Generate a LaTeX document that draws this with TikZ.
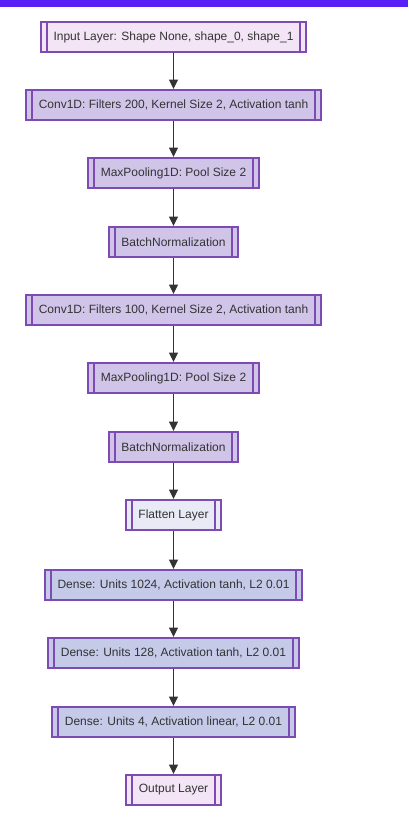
\documentclass[tikz,border=0pt]{standalone}
\usepackage{fontspec}
\setmainfont{Liberation Sans}
\definecolor{topbar}{HTML}{5A1EF6}
\definecolor{edgepurple}{HTML}{7D4BB3}
\definecolor{ioflll}{HTML}{F3E5F5}
\definecolor{convfill}{HTML}{D1C4E9}
\definecolor{flatfill}{HTML}{E8EAF6}
\definecolor{densefill}{HTML}{C5CAE9}
\definecolor{wire}{HTML}{333333}
\usetikzlibrary{arrows.meta}

\begin{document}
\begin{tikzpicture}[
    x=0.75pt, y=-0.75pt,
    >={Triangle[length=7pt,width=6.5pt]},
    font=\fontsize{9}{11}\selectfont,
    layer/.style={draw=edgepurple, line width=1.5pt, fill=convfill,
                  inner xsep=9.5pt, inner ysep=0pt,
                  minimum height=22.5pt, text=black!80,
                  path picture={
                    \draw[edgepurple, line width=1.2pt]
                      ([xshift=4.5pt]path picture bounding box.north west) --
                      ([xshift=4.5pt]path picture bounding box.south west);
                    \draw[edgepurple, line width=1.2pt]
                      ([xshift=-4.5pt]path picture bounding box.north east) --
                      ([xshift=-4.5pt]path picture bounding box.south east);
                  }},
    io/.style={layer, fill=ioflll},
    flat/.style={layer, fill=flatfill},
    dense/.style={layer, fill=densefill},
    e/.style={->, draw=wire, line width=1.1pt},
  ]
    \useasboundingbox (0,0) rectangle (408,820);
    \fill[topbar] (0,0) rectangle (408,7);
    % --- input and first conv block ---------------------------------------
    \node[io]    (in)  at (173.5, 37)  {Input Layer: Shape None, shape\_0, shape\_1};
    \node[layer] (c1)  at (173.5,105)  {Conv1D: Filters 200, Kernel Size 2, Activation tanh};
    \node[layer] (mp1) at (173.5,173)  {MaxPooling1D: Pool Size 2};
    \node[layer] (bn1) at (173.5,242)  {BatchNormalization};
    % --- second conv block -------------------------------------------------
    \node[layer] (c2)  at (173.5,310)  {Conv1D: Filters 100, Kernel Size 2, Activation tanh};
    \node[layer] (mp2) at (173.5,378)  {MaxPooling1D: Pool Size 2};
    \node[layer] (bn2) at (173.5,447)  {BatchNormalization};
    \node[flat]  (fl)  at (173.5,515)  {Flatten Layer};
    % --- dense head ----------------------------------------------------------
    \node[dense] (d1)  at (173.5,585)  {Dense: Units 1024, Activation tanh, L2 0.01};
    \node[dense] (d2)  at (173.5,653)  {Dense: Units 128, Activation tanh, L2 0.01};
    \node[dense] (d3)  at (173.5,722)  {Dense: Units 4, Activation linear, L2 0.01};
    \node[io]    (out) at (173.5,790)  {Output Layer};
    % --- edges -----------------------------------------------------------------
    \draw[e] (in)  -- (c1);
    \draw[e] (c1)  -- (mp1);
    \draw[e] (mp1) -- (bn1);
    \draw[e] (bn1) -- (c2);
    \draw[e] (c2)  -- (mp2);
    \draw[e] (mp2) -- (bn2);
    \draw[e] (bn2) -- (fl);
    \draw[e] (fl)  -- (d1);
    \draw[e] (d1)  -- (d2);
    \draw[e] (d2)  -- (d3);
    \draw[e] (d3)  -- (out);
  \end{tikzpicture}
\end{document}
